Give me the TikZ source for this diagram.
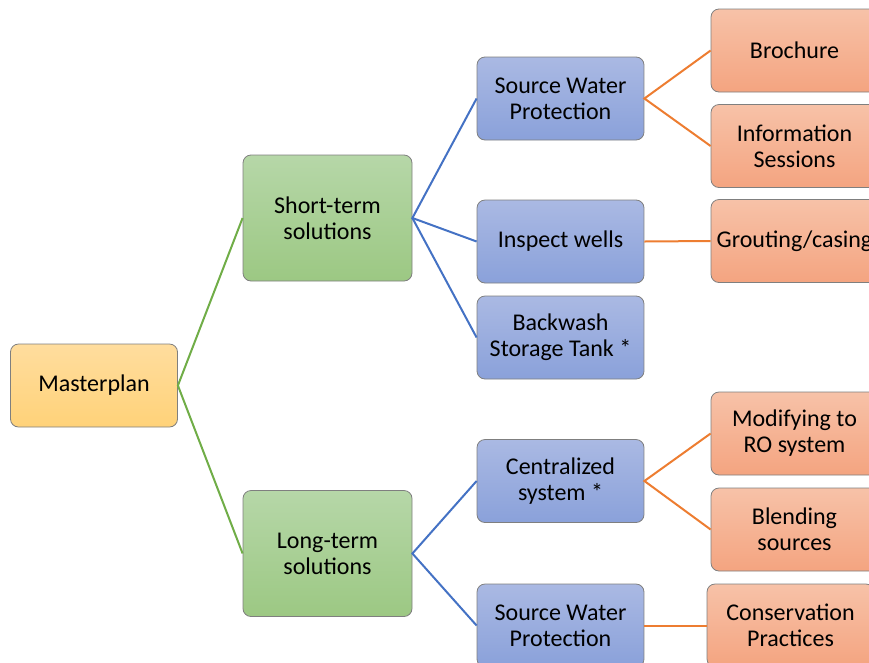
\documentclass[tikz,border=0pt]{standalone}
\usepackage{fontspec}
\setmainfont{Carlito}
\definecolor{bordergray}{HTML}{7F7F7F}
\definecolor{ytop}{HTML}{FFDD9E}
\definecolor{ybot}{HTML}{FFD279}
\definecolor{gtop}{HTML}{B6D7A8}
\definecolor{gbot}{HTML}{9CC883}
\definecolor{btop}{HTML}{AAB9E3}
\definecolor{bbot}{HTML}{8AA1DA}
\definecolor{otop}{HTML}{F7C2A8}
\definecolor{obot}{HTML}{F4A480}
\definecolor{lgreen}{HTML}{70AD47}
\definecolor{lblue}{HTML}{4472C4}
\definecolor{lorange}{HTML}{ED7D31}
\tikzset{
  box/.style={draw=bordergray, line width=0.8pt, rounded corners=8pt,
    minimum width=167pt, minimum height=83pt, inner sep=1pt, align=center,
    font=\fontsize{24}{26}\selectfont, text=black},
  ybox/.style={box, top color=ytop, bottom color=ybot},
  gbox/.style={box, top color=gtop, bottom color=gbot, minimum width=169pt, minimum height=126pt},
  bbox/.style={box, top color=btop, bottom color=bbot},
  obox/.style={box, top color=otop, bottom color=obot},
  gline/.style={draw=lgreen, line width=2pt},
  bline/.style={draw=lblue, line width=2pt},
  oline/.style={draw=lorange, line width=2pt},
}
\begin{document}
\begin{tikzpicture}[x=1pt,y=-1pt]
\path[use as bounding box] (0,0) rectangle (869,662);
\clip (0,0) rectangle (869,662);
\node[ybox] (master) at (94,385.5) {Masterplan};
\node[gbox] (short) at (327.5,218) {Short-term\\solutions};
\node[gbox] (long) at (327.5,553.5) {Long-term\\solutions};
\node[bbox] (swp1) at (560.5,98.5) {Source Water\\Protection};
\node[bbox] (inspect) at (560.5,241.5) {Inspect wells};
\node[bbox] (backwash) at (560.5,337.5) {Backwash\\Storage Tank *};
\node[bbox] (central) at (560.5,481) {Centralized\\system *};
\node[bbox] (swp2) at (560.5,625.5) {Source Water\\Protection};
\node[obox] (brochure) at (794.5,50.5) {Brochure};
\node[obox] (info) at (794.5,146) {Information\\Sessions};
\node[obox] (grout) at (794.5,241) {Grouting/casing};
\node[obox] (modify) at (794.5,433.5) {Modifying to\\RO system};
\node[obox] (blend) at (794.5,529.5) {Blending\\sources};
\node[obox] (conserv) at (790.5,625.5) {Conservation\\Practices};
\draw[gline] (short.west) -- (master.east) -- (long.west);
\draw[bline] (swp1.west) -- (short.east) -- (inspect.west);
\draw[bline] (short.east) -- (backwash.west);
\draw[bline] (central.west) -- (long.east) -- (swp2.west);
\draw[oline] (brochure.west) -- (swp1.east) -- (info.west);
\draw[oline] (inspect.east) -- (grout.west);
\draw[oline] (modify.west) -- (central.east) -- (blend.west);
\draw[oline] (swp2.east) -- (conserv.west);
\end{tikzpicture}
\end{document}
